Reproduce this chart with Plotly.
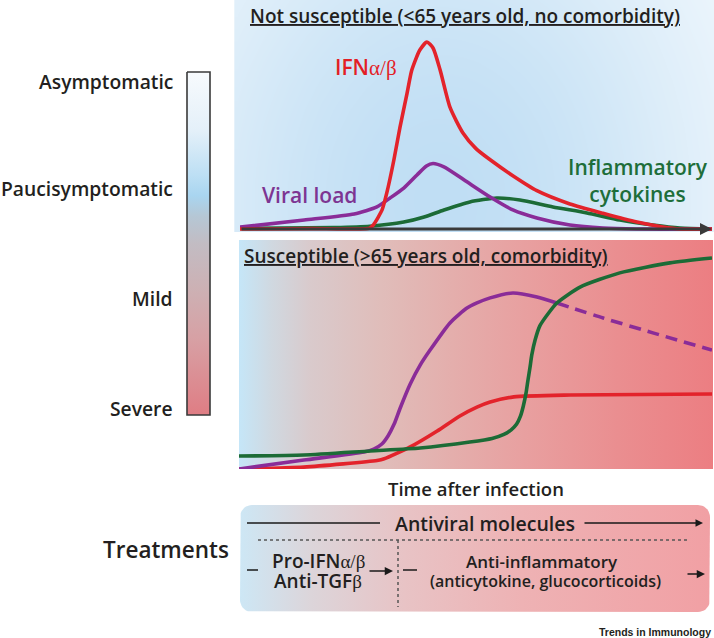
import numpy as np
import plotly.graph_objects as go

W, H = 714, 638
FONT = "Open Sans"
TXT = "#231f20"

# ---------------- data ----------------
# Top panel (not susceptible): time after infection (0-100) vs relative level (IFN peak = 100)
top_ifn_t = [0, 15, 27.5, 28.4, 30.1, 31.1, 32.6, 33.9, 35.4, 36.4, 38.1, 39.6, 40.9, 42.4, 44.5, 47.2, 50.0, 53.0, 57.8, 62.9, 69.9, 76.9, 84.1, 89.6, 93.2, 100]
top_ifn_v = [0, 0.2, 0.5, 2.7, 10.2, 19.3, 36.9, 54.5, 72.7, 85.0, 95.7, 100, 96.8, 85.0, 65.0, 51.5, 43.0, 37.0, 28.5, 20.5, 13.4, 8.4, 3.7, 1.1, 0, 0]
top_viral_t = [0, 13.6, 24.2, 29.0, 31.8, 34.7, 37.5, 39.5, 40.9, 43.2, 47.5, 53.0, 57.8, 62.9, 69.9, 76.9, 84, 100]
top_viral_v = [1.0, 4.8, 8.0, 11.8, 16.6, 21.9, 28.9, 33.7, 35.0, 33.2, 26.2, 17.1, 10.2, 5.9, 2.1, 0.5, 0, 0]
top_infl_t = [0, 20, 27.5, 34.7, 39.0, 43.2, 48.7, 54.4, 59.3, 66.3, 73.5, 80.5, 87.5, 93.2, 100]
top_infl_v = [0.3, 0.8, 1.5, 3.7, 6.4, 10.2, 14.5, 16.6, 15.5, 11.8, 8.6, 4.8, 2.1, 0.5, 0]

# Bottom panel (susceptible)
bot_ifn_t = [0, 13.7, 29.2, 30.7, 36.2, 41.9, 46.7, 50.3, 53.1, 58.1, 70.0, 100]
bot_ifn_v = [0, 0.9, 4.0, 4.8, 10.4, 17.9, 25.0, 29.2, 31.6, 34.0, 34.9, 35.4]
bot_viral_t = [0, 13.7, 26.4, 28.5, 30.2, 31.5, 32.8, 34.0, 36.2, 38.3, 40.4, 44.6, 48.2, 50.3, 53.1, 57.9, 63.0, 67.2]
bot_viral_v = [0, 4.2, 8.0, 9.4, 11.8, 15.6, 21.2, 28.3, 40.1, 49.0, 56.1, 68.9, 75.9, 78.3, 80.7, 83.0, 81.1, 78.3]
bot_viral_dash_t = [67.2, 77.0, 87.5, 100]
bot_viral_dash_v = [78.3, 71.2, 64.2, 56.1]
bot_infl_t = [0, 13.7, 27.7, 38.3, 48.8, 53.5, 56.0, 57.6, 58.7, 59.5, 60.1, 60.7, 61.1, 61.5, 61.9, 62.6, 63.6, 65.3, 67.2, 72.1, 80.5, 91.1, 100]
bot_infl_v = [6.1, 6.6, 8.5, 9.9, 12.7, 14.4, 16.3, 18.6, 21.2, 24.9, 29.6, 36.0, 42.0, 47.6, 53.8, 60.8, 67.5, 73.1, 78.3, 85.8, 92.5, 97.2, 99.5]

severity_labels = ["Asymptomatic", "Paucisymptomatic", "Mild", "Severe"]

RED = "#e3232b"
PURPLE = "#8a2c98"
GREEN = "#1c6b36"

fig = go.Figure()

# ---------------- backgrounds (canvas axes x/y in pixel units) ----------------
gx = np.linspace(237, 714, 90)
gy = np.linspace(0, 229, 45)
X, Y = np.meshgrid(gx, gy)
Z = np.exp(-((X - 440) / 300) ** 2 - ((Y - 200) / 380) ** 2)
fig.add_trace(go.Heatmap(x=gx, y=gy, z=Z, colorscale=[[0, "#ffffff"], [1, "#c0def4"]],
                         zmin=0, zmax=1, zsmooth="best", showscale=False, hoverinfo="skip",
                         xaxis="x", yaxis="y"))


def rounded_rect(x0, x1, y0, y1, r, n=10):
    xs, ys = [], []
    corners = [(x1 - r, y0 + r, -90, 0), (x1 - r, y1 - r, 0, 90),
               (x0 + r, y1 - r, 90, 180), (x0 + r, y0 + r, 180, 270)]
    for cx, cy, a0, a1 in corners:
        a = np.radians(np.linspace(a0, a1, n))
        xs += list(cx + r * np.cos(a))
        ys += list(cy + r * np.sin(a))
    xs.append(xs[0])
    ys.append(ys[0])
    return xs, ys


# bottom panel gradient
bx = [239, 713, 713, 239, 239]
by = [240, 240, 469, 469, 240]
fig.add_trace(go.Scatter(x=bx, y=by, mode="lines", fill="toself", line=dict(width=0),
                         fillgradient=dict(type="horizontal", start=239, stop=713,
                                           colorscale=[[0, "#c5e6f8"], [0.07, "#d0d8e0"], [0.15, "#d9cacc"],
                                                       [0.3, "#e0bdba"], [0.45, "#e4aeac"], [0.6, "#e8a0a0"],
                                                       [0.8, "#ea8e90"], [1, "#ec7e82"]]),
                         hoverinfo="skip", xaxis="x", yaxis="y"))

# severity bar
cbx = [187, 210, 210, 187, 187]
cby = [72, 72, 415, 415, 72]
fig.add_trace(go.Scatter(x=cbx, y=cby, mode="lines", fill="toself", line=dict(width=1.6, color="#3a3a3a"),
                         fillgradient=dict(type="vertical", start=72, stop=415,
                                           colorscale=[[0, "#f7fafd"], [0.17, "#e4f0f9"], [0.30, "#bddff4"],
                                                       [0.36, "#a9d5f0"], [0.42, "#b5c7d5"], [0.50, "#c2bcc3"],
                                                       [0.64, "#cdb0b3"], [0.78, "#d7a0a4"], [1, "#df7d84"]]),
                         hoverinfo="skip", xaxis="x", yaxis="y"))

# treatments box
tx, ty = rounded_rect(240, 710, 505, 612, 12)
fig.add_trace(go.Scatter(x=tx, y=ty, mode="lines", fill="toself", line=dict(width=0),
                         fillgradient=dict(type="horizontal", start=240, stop=710,
                                           colorscale=[[0, "#cde7f5"], [0.15, "#dcd5da"], [0.35, "#e8c3c5"],
                                                       [0.6, "#eeb2b4"], [1, "#f1a0a4"]]),
                         hoverinfo="skip", xaxis="x", yaxis="y"))

# ---------------- data curves ----------------
def curve(t, v, color, ax, dash="solid"):
    fig.add_trace(go.Scatter(x=t, y=v, mode="lines", line=dict(color=color, width=3.6, shape="spline",
                                                                smoothing=0.6, dash=dash),
                             hoverinfo="skip", xaxis="x" + ax, yaxis="y" + ax))

curve(top_infl_t, top_infl_v, GREEN, "2")
curve(top_viral_t, top_viral_v, PURPLE, "2")
curve(top_ifn_t, top_ifn_v, RED, "2")

curve(bot_ifn_t, bot_ifn_v, RED, "3")
curve(bot_viral_t, bot_viral_v, PURPLE, "3")
curve(bot_viral_dash_t, bot_viral_dash_v, PURPLE, "3", dash="12px,7px")
curve(bot_infl_t, bot_infl_v, GREEN, "3")

# ---------------- annotations ----------------
ann = []


def text(x, y, s, size, color=TXT, xanchor="center", family=FONT, weight=600):
    ann.append(dict(x=x, y=y, xref="x", yref="y", text=s, showarrow=False, xanchor=xanchor,
                    yanchor="middle", font=dict(family=family, size=size, color=color, weight=weight)))


def arrow(x0, y0, x1, y1, width=1.5, color="#1a1a1a", head=2, size=1.0, ref=""):
    ann.append(dict(x=x1, y=y1, ax=x0, ay=y0, xref="x" + ref, yref="y" + ref, axref="x" + ref,
                    ayref="y" + ref, text="", showarrow=True, arrowhead=head, arrowsize=size,
                    arrowwidth=width, arrowcolor=color))


# severity labels
for lab, yy in zip(severity_labels, [81, 188, 298, 408]):
    text(175, yy, lab, 19.3, xanchor="right")

# panel titles
text(248, 16, "<u>Not susceptible (&lt;65 years old, no comorbidity)</u>", 19, xanchor="left")
text(242, 256, "<u>Susceptible (&gt;65 years old, comorbidity)</u>", 19, xanchor="left")

# curve labels
SERIF = "<span style='font-family:Liberation Serif;font-weight:400'>"
text(366, 67, "IFN" + SERIF + "α/β</span>", 21, color="#e31e26")
text(309, 195, "Viral load", 21, color="#7d3592")
text(638, 180, "Inflammatory<br>cytokines", 21, color="#1e6e3a")

# time axis arrow (top panel)
arrow(0, 0, 100, 0, width=3, color="#3a3a3a", head=2, size=0.8, ref="2")
text(476, 488, "Time after infection", 18.5)

# treatments
text(166, 549, "Treatments", 22.5)
text(485, 523, "Antiviral molecules", 19.5)
arrow(583, 523, 703, 523)
text(318, 561, "Pro-IFN" + SERIF + "α/β</span>", 19)
text(318, 581, "Anti-TGF" + SERIF + "β</span>", 19)
arrow(368, 571, 393, 571, size=1.1)
text(542, 561, "Anti-inflammatory", 17)
text(545, 581, "(anticytokine, glucocorticoids)", 16)
arrow(686, 574, 705, 574, size=1.1)
text(713, 632, "<b>Trends in Immunology</b>", 10.5, xanchor="right", family="Liberation Sans", weight=700)

shapes = [
    dict(type="line", xref="x", yref="y", x0=247, x1=380, y0=523, y1=523, line=dict(color="#1a1a1a", width=1.5)),
    dict(type="line", xref="x", yref="y", x0=258, x1=690, y0=540, y1=540, line=dict(color="#555555", width=1.5, dash="dot")),
    dict(type="line", xref="x", yref="y", x0=398, x1=398, y0=540, y1=607, line=dict(color="#555555", width=1.5, dash="dot")),
    dict(type="line", xref="x", yref="y", x0=247, x1=258, y0=570, y1=570, line=dict(color="#1a1a1a", width=1.5)),
    dict(type="line", xref="x", yref="y", x0=403, x1=417, y0=570, y1=570, line=dict(color="#1a1a1a", width=1.5)),
]

fig.update_layout(
    width=W, height=H, margin=dict(l=0, r=0, t=0, b=0),
    paper_bgcolor="white", plot_bgcolor="rgba(0,0,0,0)", showlegend=False, hovermode=False,
    xaxis=dict(domain=[0, 1], range=[0, W], visible=False, fixedrange=True),
    yaxis=dict(domain=[0, 1], range=[H, 0], visible=False, fixedrange=True),
    xaxis2=dict(domain=[240 / W, 712 / W], range=[0, 100], visible=False, anchor="y2", fixedrange=True),
    yaxis2=dict(domain=[1 - 238.35 / H, 1 - 4.6 / H], range=[-5, 120], visible=False, anchor="x2", fixedrange=True),
    xaxis3=dict(domain=[239 / W, 712 / W], range=[0, 100], visible=False, anchor="y3", fixedrange=True),
    yaxis3=dict(domain=[1 - 469 / H, 1 - 240 / H], range=[0, 108], visible=False, anchor="x3", fixedrange=True),
    annotations=ann, shapes=shapes,
)

fig.write_html("out.html", config={"displayModeBar": False},
               post_script="document.body.style.margin='0';document.body.style.padding='0';")
